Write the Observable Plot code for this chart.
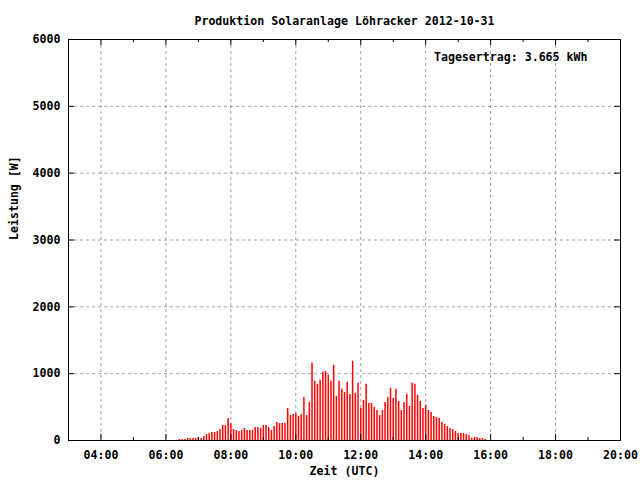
<!DOCTYPE html>
<html>
<head>
<meta charset="utf-8">
<script src="https://cdn.jsdelivr.net/npm/d3@7"></script>
<script src="https://cdn.jsdelivr.net/npm/@observablehq/plot@0.6"></script>
<style>
  html, body { margin: 0; padding: 0; background: #ffffff; }
  #chart { width: 640px; height: 480px; }
</style>
</head>
<body>
<div id="chart"></div>
<script>
// ---- data ----
const title = "Produktion Solaranlage Löhracker 2012-10-31";
const yieldLabel = "Tagesertrag: 3.665 kWh";
const xLabel = "Zeit (UTC)";
const yLabel = "Leistung [W]";

// readings every 5 minutes, first at 06:25 UTC
const firstReading = "06:25";
const stepMinutes = 5;
const power = [
  15, 15, 15, 30, 30, 30, 30, 45, 30, 60, 90, 105, 120, 120, 135, 165, 225, 225, 330, 250, 165,
  150, 135, 150, 180, 150, 150, 150, 195, 195, 180, 225, 225, 195, 150, 210, 270, 255, 255, 255, 480, 375,
  390, 405, 360, 390, 645, 375, 570, 1155, 885, 840, 900, 1020, 1035, 975, 885, 1125, 660, 885, 765, 720, 870,
  690, 1185, 705, 855, 480, 600, 840, 555, 555, 495, 450, 375, 450, 570, 645, 780, 630, 765, 585, 450, 570,
  690, 510, 855, 840, 675, 585, 480, 525, 450, 420, 360, 345, 330, 270, 240, 210, 180, 165, 135, 105,
  105, 105, 90, 75, 30, 45, 45, 30, 30, 15
];

const xDomainLabels = ["03:00", "20:00"];
const xMajorTickLabels = ["04:00", "06:00", "08:00", "10:00", "12:00", "14:00", "16:00", "18:00", "20:00"];
const xMinorTickLabels = ["05:00", "07:00", "09:00", "11:00", "13:00", "15:00", "17:00", "19:00"];
const yTicks = [0, 1000, 2000, 3000, 4000, 5000, 6000];

// ---- build ----
const toHours = s => { const [h, m] = s.split(":").map(Number); return h + m / 60; };
const start = toHours(firstReading);
const readings = power.map((w, i) => ({ t: start + i * stepMinutes / 60, w }));
const xMajor = xMajorTickLabels.map(toHours);
const xMinor = xMinorTickLabels.map(toHours);
const fmt = h => String(Math.floor(h)).padStart(2, "0") + ":" + String(Math.round((h % 1) * 60)).padStart(2, "0");

const W = 640, H = 480, mL = 68, mR = 20, mT = 39, mB = 40;
const innerW = W - mL - mR, innerH = H - mT - mB;
const font = "'DejaVu Sans Mono', 'Liberation Mono', monospace";
const grid = { stroke: "#a0a0a0", strokeOpacity: 1, strokeWidth: 1, strokeDasharray: "3,3" };

const chart = Plot.plot({
  width: W, height: H,
  marginLeft: mL, marginRight: mR, marginTop: mT, marginBottom: mB,
  style: { fontFamily: font, fontWeight: "bold", fontSize: "11.6px", background: "#ffffff", color: "#000000" },
  x: { domain: xDomainLabels.map(toHours) },
  y: { domain: [yTicks[0], yTicks[yTicks.length - 1]] },
  marks: [
    Plot.gridX(xMajor, grid),
    Plot.gridY(yTicks, grid),
    Plot.ruleX(readings, { x: "t", y1: 0, y2: "w", stroke: "#ff0000", strokeWidth: 1.5 }),
    Plot.tickX(xMajor, { x: d => d, insetTop: innerH - 6, stroke: "#000" }),
    Plot.tickX(xMajor, { x: d => d, insetBottom: innerH - 6, stroke: "#000" }),
    Plot.tickX(xMinor, { x: d => d, insetTop: innerH - 3, stroke: "#000" }),
    Plot.tickX(xMinor, { x: d => d, insetBottom: innerH - 3, stroke: "#000" }),
    Plot.tickY(yTicks, { y: d => d, insetRight: innerW - 6, stroke: "#000" }),
    Plot.tickY(yTicks, { y: d => d, insetLeft: innerW - 6, stroke: "#000" }),
    Plot.frame({ stroke: "#000", strokeWidth: 1 }),
    Plot.axisX(xMajor, { tickSize: 0, tickPadding: 10, tickFormat: fmt, label: null, fill: "#000" }),
    Plot.axisY(yTicks, { tickSize: 0, tickPadding: 8, tickFormat: d => String(d), label: null, fill: "#000" }),
    Plot.text([title], { text: d => d, frameAnchor: "top", dy: -23, fill: "#000" }),
    Plot.text([yieldLabel], { text: d => d, frameAnchor: "top-right", textAnchor: "end", dx: -33, dy: 13, fill: "#000" }),
    Plot.text([xLabel], { text: d => d, frameAnchor: "bottom", dy: 34, fill: "#000" }),
    Plot.text([yLabel], { text: d => d, frameAnchor: "left", dx: -54, rotate: -90, fill: "#000" })
  ]
});
document.getElementById("chart").appendChild(chart);
</script>
</body>
</html>
